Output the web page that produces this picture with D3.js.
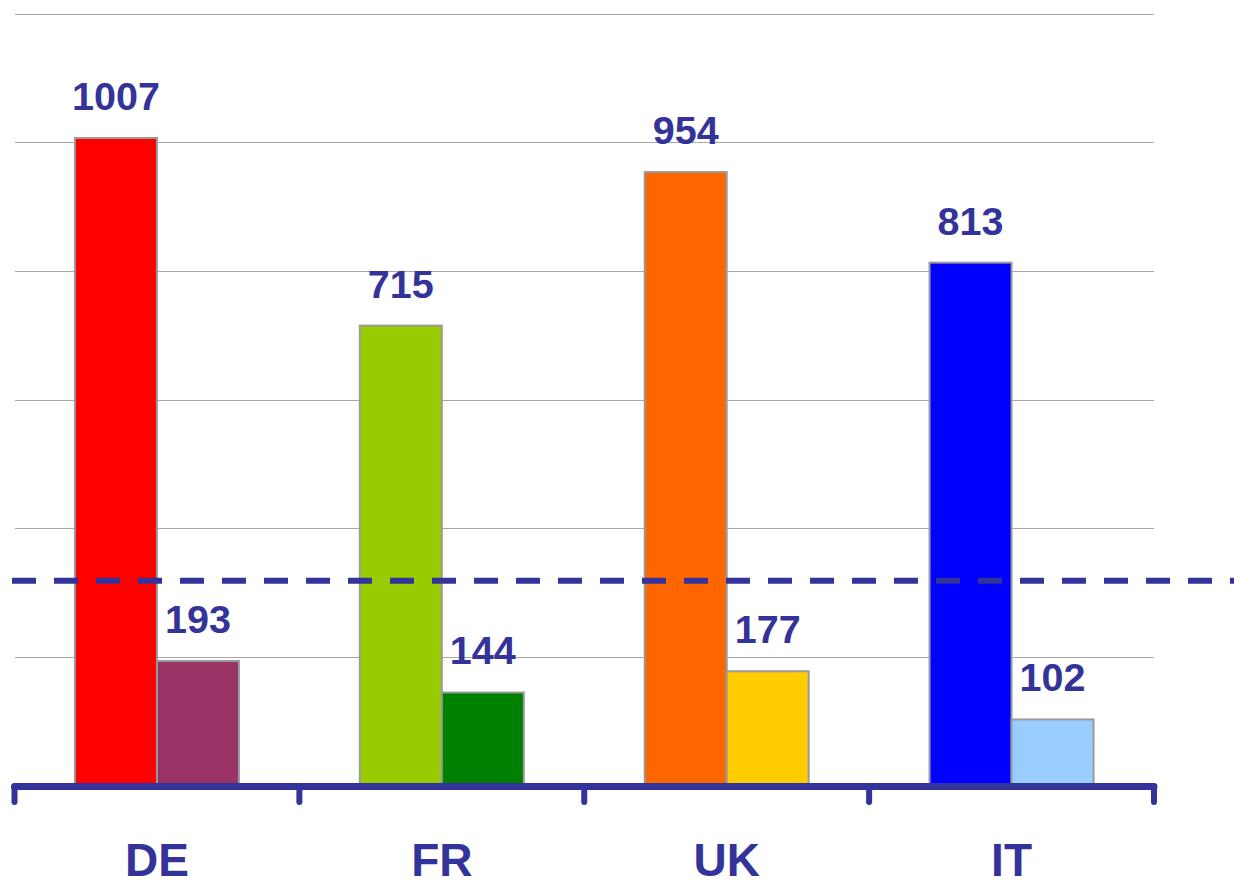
<!DOCTYPE html>
<html>
<head>
<meta charset="utf-8">
<script src="https://cdn.jsdelivr.net/npm/d3@7"></script>
<style>
  html, body { margin: 0; padding: 0; background: #fff; }
  #chart-container { width: 1234px; height: 881px; overflow: hidden; }
</style>
</head>
<body>
<div id="chart-container"></div>
<script>
// --- Data ---
const categories = ["DE", "FR", "UK", "IT"];
const seriesA = [1007, 715, 954, 813];
const seriesB = [193, 144, 177, 102];
const colorsA = ["#FF0000", "#99CC00", "#FF6600", "#0000FF"];
const colorsB = ["#993366", "#008000", "#FFCC00", "#99CCFF"];
const gridTicks = [200, 400, 600, 800, 1000, 1200];
const referenceValue = 318;

// --- Configuration ---
const width = 1234;
const height = 881;
const textColor = "#333399";

const svg = d3.select("#chart-container")
    .append("svg")
    .attr("width", width)
    .attr("height", height);

// --- Scales ---
const x0 = d3.scaleBand()
    .domain(categories)
    .range([14.5, 1154])
    .paddingInner(0)
    .paddingOuter(0);

const x1 = d3.scaleBand()
    .domain([0, 1])
    .range([0, x0.bandwidth()])
    .paddingInner(0)
    .paddingOuter(0.737);

const yScale = d3.scaleLinear()
    .domain([0, 1200])
    .range([785, 14]);

// --- Gridlines (behind bars) ---
svg.append("g")
    .selectAll("line")
    .data(gridTicks)
    .enter()
    .append("line")
    .attr("x1", 15)
    .attr("x2", 1154)
    .attr("y1", d => Math.round(yScale(d)) + 0.5)
    .attr("y2", d => Math.round(yScale(d)) + 0.5)
    .attr("stroke", "#a8a8a8")
    .attr("stroke-width", 1);

// --- Bars ---
const rows = categories.map((c, i) => ({
    cat: c,
    bars: [
        { key: 0, value: seriesA[i], color: colorsA[i] },
        { key: 1, value: seriesB[i], color: colorsB[i] }
    ]
}));

const groups = svg.append("g")
    .selectAll("g")
    .data(rows)
    .enter()
    .append("g")
    .attr("transform", d => `translate(${x0(d.cat)},0)`);

groups.selectAll("rect")
    .data(d => d.bars)
    .enter()
    .append("rect")
    .attr("x", d => x1(d.key))
    .attr("width", x1.bandwidth())
    .attr("y", d => yScale(d.value))
    .attr("height", d => yScale(0) - yScale(d.value))
    .attr("fill", d => d.color)
    .attr("stroke", "#9a9a9a")
    .attr("stroke-width", 2);

// value labels
groups.selectAll("text")
    .data(d => d.bars)
    .enter()
    .append("text")
    .attr("x", d => x1(d.key) + x1.bandwidth() / 2)
    .attr("y", d => yScale(d.value) - 28)
    .attr("text-anchor", "middle")
    .attr("font-family", "'Liberation Sans', Arial, sans-serif")
    .attr("font-weight", "bold")
    .attr("font-size", "39.5px")
    .attr("fill", textColor)
    .text(d => d.value);

// --- Reference dashed line (on top of bars) ---
svg.append("line")
    .attr("x1", 12)
    .attr("x2", width)
    .attr("y1", yScale(referenceValue))
    .attr("y2", yScale(referenceValue))
    .attr("stroke", textColor)
    .attr("stroke-width", 6)
    .attr("stroke-dasharray", "24,18");

// --- Category axis ---
const axisG = svg.append("g");
const edges = categories.map(c => x0(c)).concat([x0.range()[1]]);

axisG.append("line")
    .attr("x1", edges[0])
    .attr("x2", edges[edges.length - 1])
    .attr("y1", 786.5)
    .attr("y2", 786.5)
    .attr("stroke", textColor)
    .attr("stroke-width", 7)
    .attr("stroke-linecap", "round");

axisG.selectAll(".tick")
    .data(edges)
    .enter()
    .append("line")
    .attr("class", "tick")
    .attr("x1", d => d)
    .attr("x2", d => d)
    .attr("y1", 786.5)
    .attr("y2", 802)
    .attr("stroke", textColor)
    .attr("stroke-width", 6)
    .attr("stroke-linecap", "round");

axisG.selectAll(".cat-label")
    .data(categories)
    .enter()
    .append("text")
    .attr("class", "cat-label")
    .attr("x", d => x0(d) + x0.bandwidth() / 2)
    .attr("y", 876)
    .attr("text-anchor", "middle")
    .attr("font-family", "'Liberation Sans', Arial, sans-serif")
    .attr("font-weight", "bold")
    .attr("font-size", "46px")
    .attr("fill", textColor)
    .text(d => d);
</script>
</body>
</html>
